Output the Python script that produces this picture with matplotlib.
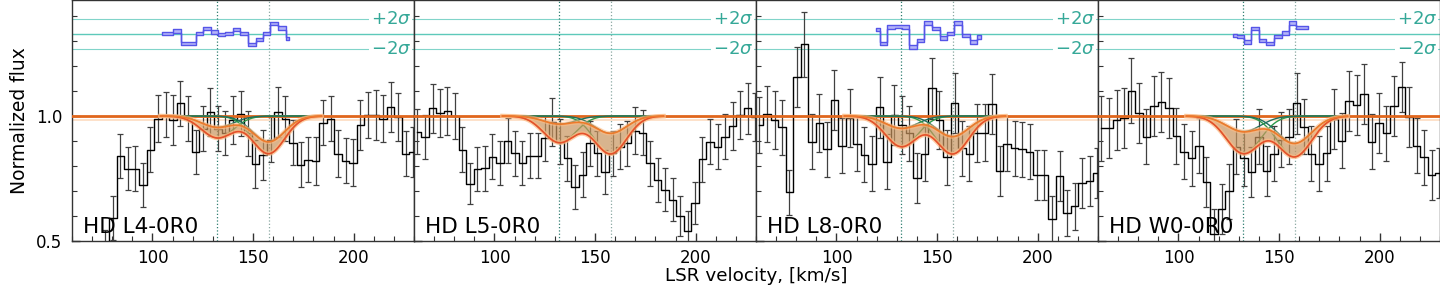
import numpy as np
import matplotlib
matplotlib.use('Agg')
import matplotlib.pyplot as plt
from matplotlib.ticker import MultipleLocator
import matplotlib.transforms as mtransforms

# ---------------- data ----------------
velocity = [61.7, 65.4, 69.2, 72.9, 76.6, 80.4, 84.1, 87.8, 91.5, 95.3,
            99.0, 102.7, 106.5, 110.2, 113.9, 117.7, 121.4, 125.1, 128.8, 132.6,
            136.3, 140.0, 143.8, 147.5, 151.2, 155.0, 158.7, 162.4, 166.1, 169.9,
            173.6, 177.3, 181.1, 184.8, 188.5, 192.3, 196.0, 199.7, 203.4, 207.2,
            210.9, 214.6, 218.4, 222.1, 225.8, 229.6]

panel_labels = ['HD L4-0R0', 'HD L5-0R0', 'HD L8-0R0', 'HD W0-0R0']

flux_L4 = [0.36, 0.30, 0.33, 0.40, 0.46, 0.593, 0.842, 0.79, 0.79, 0.725,
           0.865, 0.99, 1.005, 0.984, 1.05, 0.99, 0.858, 0.95, 1.017, 0.95,
           0.931, 0.984, 1.01, 0.931, 0.808, 0.845, 0.905, 1.017, 0.99, 0.894,
           0.805, 0.825, 0.82, 0.973, 0.99, 0.85, 0.822, 0.814, 0.964, 1.004,
           1.004, 0.99, 1.037, 0.997, 0.85, 0.858]
err_L4 = [0.09, 0.09, 0.09, 0.09, 0.085, 0.086, 0.088, 0.085, 0.09, 0.088,
          0.09, 0.095, 0.09, 0.1, 0.089, 0.09, 0.088, 0.09, 0.095, 0.09,
          0.088, 0.095, 0.09, 0.09, 0.095, 0.1, 0.09, 0.1, 0.09, 0.09,
          0.09, 0.09, 0.095, 0.09, 0.09, 0.095, 0.09, 0.095, 0.1, 0.09,
          0.1, 0.095, 0.1, 0.095, 0.09, 0.1]

flux_L5 = [0.938, 0.918, 1.03, 1.013, 1.021, 1.0, 0.865, 0.73, 0.788, 0.792,
           0.838, 0.812, 0.902, 0.851, 0.812, 0.841, 0.841, 0.911, 0.977, 0.898,
           0.832, 0.716, 0.765, 0.891, 0.851, 0.778, 0.851, 0.878, 0.891, 0.942,
           0.934, 0.812, 0.745, 0.706, 0.666, 0.60, 0.54, 0.653, 0.827, 0.898,
           0.878, 0.918, 0.96, 1.004, 1.03, 0.997]
err_L5 = [0.09, 0.088, 0.096, 0.095, 0.095, 0.09, 0.09, 0.082, 0.088, 0.09,
          0.09, 0.088, 0.09, 0.09, 0.088, 0.09, 0.09, 0.09, 0.095, 0.09,
          0.09, 0.088, 0.09, 0.09, 0.09, 0.088, 0.09, 0.09, 0.09, 0.095,
          0.09, 0.09, 0.088, 0.085, 0.085, 0.08, 0.08, 0.085, 0.09, 0.09,
          0.09, 0.09, 0.095, 0.095, 0.1, 0.095]

flux_L8 = [0.964, 1.008, 0.984, 0.955, 0.695, 1.154, 1.286, 0.898, 0.973, 0.867,
           1.064, 0.881, 0.991, 0.889, 0.845, 0.809, 1.034, 0.818, 1.004, 0.964,
           0.931, 0.752, 0.849, 1.11, 0.984, 0.836, 1.053, 0.871, 0.849, 0.931,
           0.934, 1.048, 0.782, 0.889, 0.871, 0.867, 0.858, 0.765, 0.765, 0.589,
           0.759, 0.613, 0.639, 0.732, 0.739, 0.772]
err_L8 = [0.11, 0.11, 0.115, 0.11, 0.09, 0.12, 0.13, 0.11, 0.115, 0.11,
          0.12, 0.11, 0.115, 0.11, 0.11, 0.11, 0.12, 0.11, 0.12, 0.115,
          0.11, 0.1, 0.11, 0.12, 0.115, 0.11, 0.12, 0.11, 0.11, 0.115,
          0.115, 0.12, 0.1, 0.11, 0.11, 0.11, 0.11, 0.1, 0.1, 0.09,
          0.1, 0.09, 0.095, 0.1, 0.1, 0.1]

flux_W0 = [0.951, 0.951, 0.984, 0.991, 1.101, 1.013, 0.918, 1.04, 1.057, 1.031,
           0.92, 0.858, 0.832, 0.881, 0.735, 0.53, 0.63, 0.70, 0.878, 0.832,
           0.778, 0.918, 0.782, 0.849, 0.905, 0.918, 1.05, 0.958, 0.849, 0.809,
           0.851, 0.987, 0.902, 1.061, 1.044, 1.088, 0.898, 0.973, 0.931, 1.04,
           1.117, 0.997, 0.881, 0.836, 0.765, 0.772]
err_W0 = [0.13, 0.12, 0.12, 0.12, 0.13, 0.12, 0.11, 0.12, 0.12, 0.12,
          0.11, 0.11, 0.11, 0.11, 0.1, 0.1, 0.1, 0.11, 0.11, 0.11,
          0.1, 0.11, 0.1, 0.11, 0.11, 0.11, 0.12, 0.11, 0.11, 0.11,
          0.11, 0.12, 0.11, 0.12, 0.12, 0.12, 0.11, 0.12, 0.11, 0.12,
          0.1, 0.12, 0.11, 0.11, 0.1, 0.1]

all_flux = [flux_L4, flux_L5, flux_L8, flux_W0]
all_err = [err_L4, err_L5, err_L8, err_W0]

# fitted absorption components (centre velocities, width, depths lower/upper)
comp_velocity = [132.3, 157.7]
comp_width = [8.0, 8.0, 8.0, 8.5]
depth1_lo = [0.087, 0.106, 0.122, 0.149]
depth1_hi = [0.045, 0.032, 0.049, 0.062]
depth2_lo = [0.150, 0.151, 0.151, 0.162]
depth2_hi = [0.103, 0.069, 0.082, 0.109]
model_range = [104.0, 184.0]

# residuals (offset to the top band)
res_vel_L4 = [104.6, 108.3, 112.1, 115.8, 119.5, 123.3, 127.0, 130.7, 134.4, 138.2,
              141.9, 145.6, 149.4, 153.1, 156.8, 160.5, 164.3, 168.0]
res_L4 = [1.329, 1.329, 1.34, 1.29, 1.29, 1.329, 1.349, 1.336, 1.325, 1.329,
          1.346, 1.329, 1.285, 1.305, 1.329, 1.369, 1.351, 1.309]
res_vel_L8 = [119.5, 123.3, 127.0, 130.7, 134.4, 138.2, 141.9, 145.6, 149.4, 153.1,
              156.8, 160.5, 164.3, 168.0, 171.7]
res_L8 = [1.345, 1.289, 1.355, 1.358, 1.355, 1.276, 1.302, 1.371, 1.349, 1.312,
          1.329, 1.371, 1.322, 1.296, 1.316]
res_vel_W0 = [127.0, 130.7, 134.4, 138.2, 141.9, 145.6, 149.4, 153.1, 156.8, 160.5, 164.3]
res_W0 = [1.322, 1.318, 1.296, 1.349, 1.302, 1.289, 1.318, 1.332, 1.371, 1.353, 1.353]
all_res = [(res_vel_L4, res_L4), None, (res_vel_L8, res_L8), (res_vel_W0, res_W0)]
res_halfwidth = 0.007

res_centre = 1.327
res_2sigma = 0.0615

# ---------------- figure ----------------
fig, axes = plt.subplots(1, 4, figsize=(14.4, 2.88), dpi=100, sharey=True)
fig.subplots_adjust(left=0.05, right=1.0, bottom=1 - 241.3 / 288, top=1.0, wspace=0)

C_ORANGE = '#e0661c'
C_BAND = '#c8955f'
C_TEAL = '#4cc3b3'

vgrid = np.linspace(model_range[0], model_range[1], 500)

def comp(v, v0, s, d):
    return 1 - d * np.exp(-0.5 * ((v - v0) / s) ** 2)

for i, ax in enumerate(axes):
    v = np.array(velocity)
    f = np.array(all_flux[i])
    e = np.array(all_err[i])

    # residual band lines
    for yy, lw, a in [(res_centre, 1.0, 0.9), (res_centre + res_2sigma, 0.8, 0.7),
                      (res_centre - res_2sigma, 0.8, 0.7)]:
        ax.axhline(yy, color=C_TEAL, lw=lw, alpha=a, zorder=1)
    tr = mtransforms.blended_transform_factory(ax.transAxes, ax.transData)
    ax.text(0.991, res_centre + res_2sigma, r'$+2\sigma$', transform=tr, ha='right',
            va='center', color='#35a898', fontsize=13,
            bbox=dict(fc='white', ec='none', pad=1.0), zorder=2)
    ax.text(0.991, res_centre - res_2sigma, r'$-2\sigma$', transform=tr, ha='right',
            va='center', color='#35a898', fontsize=13,
            bbox=dict(fc='white', ec='none', pad=1.0), zorder=2)

    # component velocity markers
    ax.axvline(comp_velocity[0], color='#2f7f70', lw=0.9, ls=':', zorder=1)
    ax.axvline(comp_velocity[1], color='#8aa8a2', lw=0.9, ls=':', zorder=1)

    # data
    ax.errorbar(v, f, yerr=e, fmt='none', ecolor='#404040', elinewidth=0.9,
                capsize=2, capthick=0.9, zorder=3)
    ax.step(v, f, where='mid', color='black', lw=1.0, zorder=3)

    # continuum
    ax.axhline(0.984, color='#fddcc0', lw=1.2, zorder=2)
    ax.axhline(1.0, color=C_ORANGE, lw=2.0, zorder=4)

    s = comp_width[i]
    c1lo = comp(vgrid, comp_velocity[0], s, depth1_lo[i])
    c1hi = comp(vgrid, comp_velocity[0], s, depth1_hi[i])
    c2lo = comp(vgrid, comp_velocity[1], s, depth2_lo[i])
    c2hi = comp(vgrid, comp_velocity[1], s, depth2_hi[i])
    tot_lo = c1lo * c2lo
    tot_hi = c1hi * c2hi

    # individual components
    ax.plot(vgrid, c1lo, color='#2e9a4a', lw=1.0, zorder=5)
    ax.plot(vgrid, c1hi, color='#1f6f5c', lw=1.0, zorder=5)
    ax.plot(vgrid, c2lo, color='#2e9a4a', lw=1.0, zorder=5)
    ax.plot(vgrid, c2hi, color='#1f6f5c', lw=1.0, zorder=5)

    # model band
    ax.fill_between(vgrid, tot_lo, tot_hi, color=C_BAND, alpha=0.7, lw=0, zorder=6)
    ax.plot(vgrid, tot_lo, color='#fdbb84', lw=3.2, alpha=0.7, zorder=6)
    ax.plot(vgrid, tot_hi, color='#fdbb84', lw=3.2, alpha=0.6, zorder=6)
    ax.plot(vgrid, tot_lo, color='#e6502a', lw=1.2, zorder=7)
    ax.plot(vgrid, tot_hi, color='#ee7a2a', lw=1.2, zorder=7)

    # residuals
    if all_res[i] is not None:
        rv, rr = all_res[i]
        rr = np.array(rr)
        ax.fill_between(rv, rr - res_halfwidth, rr + res_halfwidth, step='mid',
                        facecolor='#b4b4f8', edgecolor='#5555e8', lw=1.0, zorder=5)

    ax.text(0.032, 0.035, panel_labels[i], transform=ax.transAxes, fontsize=15.5,
            ha='left', va='baseline', color='black', zorder=10)

    ax.set_xlim(60, 230)
    ax.set_ylim(0.5, 1.463)
    ax.set_xticks([100, 150, 200])
    ax.xaxis.set_minor_locator(MultipleLocator(10))
    ax.set_yticks([0.5, 1.0])
    ax.set_yticklabels(['0.5', '1.0'])
    ax.yaxis.set_minor_locator(MultipleLocator(0.1))
    ax.tick_params(which='both', direction='in', top=False, right=False,
                   labelsize=12, color='#333333')
    ax.tick_params(axis='x', pad=5.5)
    ax.tick_params(axis='y', pad=7)
    ax.tick_params(which='major', length=6, width=1)
    ax.tick_params(which='minor', length=3.5, width=0.8)
    for sp in ax.spines.values():
        sp.set_color('#333333')
        sp.set_linewidth(1.0)
    if i > 0:
        ax.tick_params(labelleft=False)

fig.text(20 / 1440, 1 - 120.5 / 288, 'Normalized flux', rotation=90, ha='center',
         va='center', fontsize=13.5)
fig.text(756 / 1440, 1 - 267 / 288, 'LSR velocity, [km/s]', ha='center', va='top',
         fontsize=13.2)

fig.savefig('out.png', dpi=100)
